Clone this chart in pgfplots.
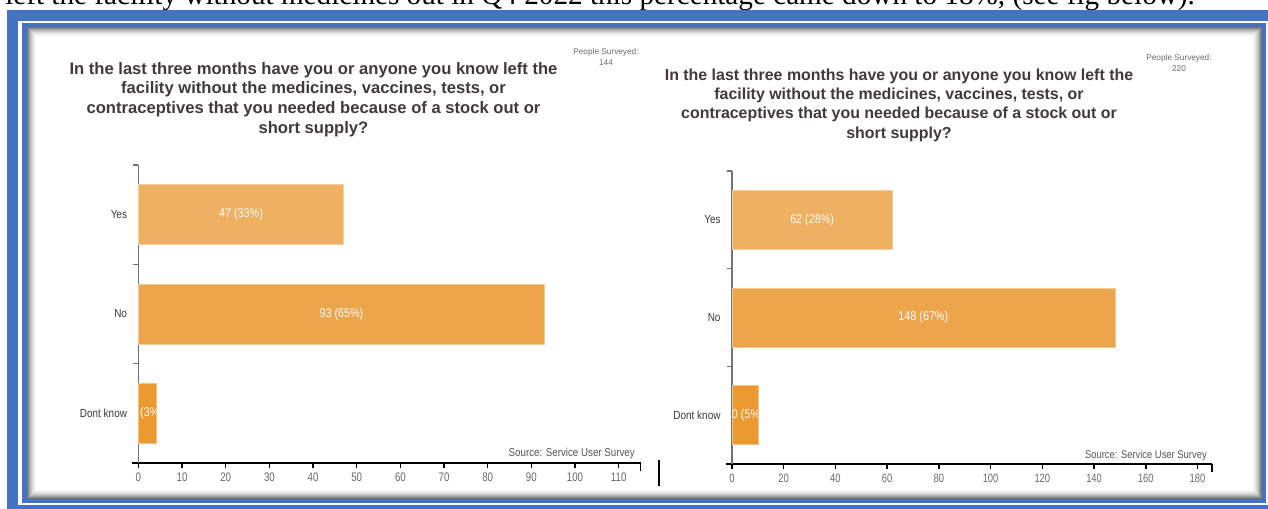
\documentclass[border=0pt]{standalone}
\usepackage{fontspec}
\usepackage{pgfplots}
\pgfplotsset{compat=1.18}
\setmainfont{Liberation Sans}
\newfontfamily\narrowA[FakeStretch=0.85]{Liberation Sans}
\newfontfamily\narrowB[FakeStretch=0.78]{Liberation Sans}
\newfontfamily\docserif{Liberation Serif}
\definecolor{frameblue}{HTML}{4472C4}
\definecolor{barYes}{HTML}{F0B062}
\definecolor{barNo}{HTML}{EDA54B}
\definecolor{barDK}{HTML}{EC9A30}
\definecolor{titlegray}{HTML}{403A3C}
\definecolor{ticklab}{HTML}{6A6A6A}
\definecolor{catlab}{HTML}{3A3A3A}
\definecolor{srcgray}{HTML}{555555}

\pgfplotsset{
  survey/.style={
    scale only axis, clip=false,
    axis x line=bottom, axis y line=left, axis line style={-},
    tick align=outside, major tick length=3.75pt,
    x axis line style={black, line width=1.5pt, shorten <=-4.5pt},
    y axis line style={black!55, line width=1.1pt},
    xmin=0, ymin=-0.5, ymax=2.5,
    ytick={0.5,1.5,2.5}, yticklabels={,,},
    y tick style={black!55, line width=1.1pt},
    extra y ticks={0,1,2}, extra y tick labels={Dont know,No,Yes},
    extra y tick style={major tick length=0pt,
      y tick label style={font=\narrowA\fontsize{8.8pt}{10pt}\selectfont, text=catlab, xshift=-5pt}},
    x tick style={black, line width=1.1pt},
    x tick label style={font=\narrowB\fontsize{9.3pt}{10pt}\selectfont, text=ticklab},
    extra x tick style={major tick length=6pt},
    extra x tick labels={},
    /pgf/number format/assume math mode=true,
  },
}
\tikzset{barlab/.style={text=white, font=\narrowA\fontsize{9.5pt}{10pt}\selectfont, inner sep=0pt}}

\begin{document}
\begin{tikzpicture}
\begin{scope}[x=0.75pt,y=-0.75pt]
\useasboundingbox (0,0) rectangle (1268,508);
% running text of the page above the figure
\begin{scope}
  \clip (0,0) rectangle (1268,9.6);
  \node[anchor=base west, inner sep=0pt, font=\docserif\fontsize{21.9pt}{24pt}\selectfont]
    at (5,4.5) {left the facility without medicines out in Q4 2022 this percentage came down to 18\%, (see fig below).};
\end{scope}
% figure frame
\fill[frameblue] (7,10) rectangle (1280,520);
\fill[white] (18,20.7) rectangle (1268,505);
\fill[frameblue] (21.7,23) rectangle (1266,503);
\fill[white] (26.7,27) rectangle (1262,499);
\foreach \i/\c in {0/55,1/45,2/36,3/28,4/21,5/15,6/10,7/6,8/3,9/1}
  \draw[black!\c, line width=0.8pt] (27.2+\i,27.5+\i) rectangle (1261.5-\i,498.5-\i);
% titles and notes
\node[align=center, font=\bfseries\fontsize{12.45pt}{14.8pt}\selectfont, text=titlegray]
  at (313.5,99.5) {In the last three months have you or anyone you know left the\\
  facility without the medicines, vaccines, tests, or\\
  contraceptives that you needed because of a stock out or\\
  short supply?};
\node[align=center, font=\bfseries\fontsize{11.95pt}{14.5pt}\selectfont, text=titlegray]
  at (899,105) {In the last three months have you or anyone you know left the\\
  facility without the medicines, vaccines, tests, or\\
  contraceptives that you needed because of a stock out or\\
  short supply?};
\node[align=center, font=\fontsize{6.2pt}{8.2pt}\selectfont, text=ticklab]
  at (606,57) {People Surveyed:\\144};
\node[align=center, font=\fontsize{6.2pt}{8.2pt}\selectfont, text=ticklab]
  at (1179,63) {People Surveyed:\\220};
\node[anchor=east, inner sep=0pt, font=\narrowA\fontsize{8.6pt}{9pt}\selectfont, text=srcgray]
  at (635,454) {Source: Service User Survey};
\node[anchor=east, inner sep=0pt, font=\narrowA\fontsize{8.3pt}{9pt}\selectfont, text=srcgray]
  at (1207,456) {Source: Service User Survey};
\draw[black, line width=1.5pt] (659,460) -- (659,486);
\coordinate (LO) at (138.4,463);
\coordinate (RO) at (731.9,464);
\end{scope}

% left panel: 144 people surveyed
\begin{axis}[survey, at={(LO)}, anchor=south west,
  width=376.6pt, height=223.5pt, xmax=115,
  xtick={0,10,...,110}, extra x ticks={115}]
  \addplot[xbar, bar shift=0pt, bar width=45pt, fill=barYes, draw=barYes!60!white] coordinates {(47,2)};
  \addplot[xbar, bar shift=0pt, bar width=45pt, fill=barNo, draw=barNo!60!white] coordinates {(93,1)};
  \addplot[xbar, bar shift=0pt, bar width=45pt, fill=barDK, draw=barDK!60!white] coordinates {(4,0)};
  \coordinate (La0) at (axis cs:0,2.302);  \coordinate (La1) at (axis cs:47,1.698); \coordinate (Lac) at (axis cs:23.5,2);
  \coordinate (Lb0) at (axis cs:0,1.302);  \coordinate (Lb1) at (axis cs:93,0.698); \coordinate (Lbc) at (axis cs:46.5,1);
  \coordinate (Lc0) at (axis cs:0,0.302);  \coordinate (Lc1) at (axis cs:4,-0.302); \coordinate (Lcc) at (axis cs:2,0);
\end{axis}

% right panel: 220 people surveyed
\begin{axis}[survey, at={(RO)}, anchor=south west,
  width=359.9pt, height=219.75pt, xmax=185.5,
  xtick={0,20,...,180}, extra x ticks={185.5},
  x tick label style={font=\narrowB\fontsize{9pt}{10pt}\selectfont}]
  \addplot[xbar, bar shift=0pt, bar width=44.25pt, fill=barYes, draw=barYes!60!white] coordinates {(62,2)};
  \addplot[xbar, bar shift=0pt, bar width=44.25pt, fill=barNo, draw=barNo!60!white] coordinates {(148,1)};
  \addplot[xbar, bar shift=0pt, bar width=44.25pt, fill=barDK, draw=barDK!60!white] coordinates {(10,0)};
  \coordinate (Ra0) at (axis cs:0,2.302);  \coordinate (Ra1) at (axis cs:62,1.698);  \coordinate (Rac) at (axis cs:31,2);
  \coordinate (Rb0) at (axis cs:0,1.302);  \coordinate (Rb1) at (axis cs:148,0.698); \coordinate (Rbc) at (axis cs:74,1);
  \coordinate (Rc0) at (axis cs:0,0.302);  \coordinate (Rc1) at (axis cs:10,-0.302); \coordinate (Rcc) at (axis cs:5,0);
\end{axis}

% value labels, cut off at the bar ends
\foreach \p/\t in {La/{47 (33\%)}, Lb/{93 (65\%)}, Lc/{4 (3\%)},
                   Ra/{62 (28\%)}, Rb/{148 (67\%)}, Rc/{10 (5\%)}}{
  \begin{scope}
    \clip (\p0) rectangle (\p1);
    \node[barlab] at (\p c) {\t};
  \end{scope}
}
\end{tikzpicture}
\end{document}
